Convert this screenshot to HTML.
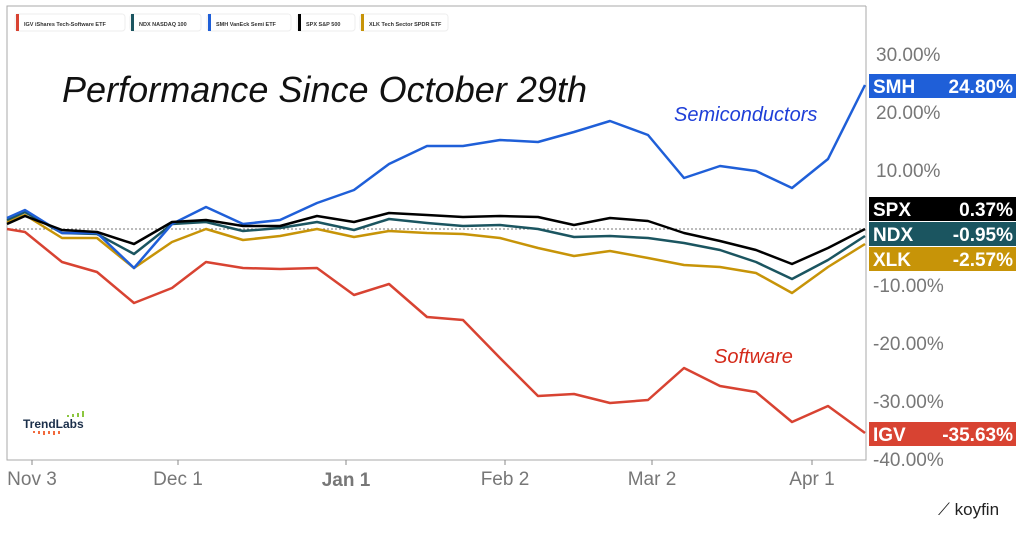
<!DOCTYPE html>
<html><head><meta charset="utf-8"><style>
body{margin:0;background:#fff;width:1024px;height:529px;overflow:hidden;font-family:"Liberation Sans",sans-serif}
</style></head><body>
<svg width="1024" height="529" viewBox="0 0 1024 529" xmlns="http://www.w3.org/2000/svg" font-family="Liberation Sans, sans-serif">
<polyline points="866,6 7,6 7,460 866,460 866,6" fill="none" stroke="#aaa" stroke-width="1"/>
<line x1="7" y1="229" x2="866" y2="229" stroke="#777" stroke-dasharray="2,2"/>
<g font-size="8" fill="#333">
<rect x="15" y="14" width="110" height="17" rx="3" fill="#fff" stroke="#eee"/><rect x="16" y="14" width="3" height="17" fill="#d84332"/><text x="24" y="26" font-size="5.5" font-weight="bold">IGV   iShares Tech-Software ETF</text>
<rect x="130" y="14" width="71" height="17" rx="3" fill="#fff" stroke="#eee"/><rect x="131" y="14" width="3" height="17" fill="#1b5560"/><text x="139" y="26" font-size="5.5" font-weight="bold">NDX   NASDAQ 100</text>
<rect x="207" y="14" width="84" height="17" rx="3" fill="#fff" stroke="#eee"/><rect x="208" y="14" width="3" height="17" fill="#1f5fd8"/><text x="216" y="26" font-size="5.5" font-weight="bold">SMH   VanEck Semi ETF</text>
<rect x="297" y="14" width="58" height="17" rx="3" fill="#fff" stroke="#eee"/><rect x="298" y="14" width="3" height="17" fill="#000"/><text x="306" y="26" font-size="5.5" font-weight="bold">SPX   S&amp;P 500</text>
<rect x="360" y="14" width="88" height="17" rx="3" fill="#fff" stroke="#eee"/><rect x="361" y="14" width="3" height="17" fill="#c79408"/><text x="369" y="26" font-size="5.5" font-weight="bold">XLK   Tech Sector SPDR ETF</text>
</g>
<text x="62" y="102" font-size="36" font-style="italic" fill="#111" textLength="525">Performance Since October 29th</text>
<text x="674" y="121" font-size="20" font-style="italic" fill="#1f3fd8">Semiconductors</text>
<text x="714" y="363" font-size="20" font-style="italic" fill="#d42a1a">Software</text>
<g font-size="19" fill="#777">
<text x="876" y="61">30.00%</text><text x="876" y="119">20.00%</text><text x="876" y="177">10.00%</text>
<text x="873" y="292">-10.00%</text><text x="873" y="350">-20.00%</text><text x="873" y="408">-30.00%</text><text x="873" y="466">-40.00%</text>
</g>
<g font-size="19" fill="#777" text-anchor="middle">
<text x="32" y="485">Nov 3</text><text x="178" y="485">Dec 1</text><text x="346" y="486" font-weight="bold">Jan 1</text>
<text x="505" y="485">Feb 2</text><text x="652" y="485">Mar 2</text><text x="812" y="485">Apr 1</text>
</g>
<g stroke="#888"><line x1="32" y1="460" x2="32" y2="465"/><line x1="178" y1="460" x2="178" y2="465"/><line x1="346" y1="460" x2="346" y2="465"/><line x1="505" y1="460" x2="505" y2="465"/><line x1="652" y1="460" x2="652" y2="465"/><line x1="812" y1="460" x2="812" y2="465"/></g>
<g fill="none" stroke-width="2.5" stroke-linejoin="round">
<polyline stroke="#d84332" points="7,229 25,232 62,262 97,272 134,303 172,288 206,262 243,268 280,269 317,268 354,295 389,284 427,317 463,320 500,358 538,396 574,394 610,403 648,400 684,368 720,386 756,392 792,422 828,406 865,433"/>
<polyline stroke="#c79408" points="7,222 25,215 62,238 97,238 134,268 172,242 206,229 243,240 280,236 317,229 354,237 389,231 427,233 463,234 500,238 538,248 574,256 610,251 648,258 684,265 720,267 756,273 792,293 828,267 865,244"/>
<polyline stroke="#1b5560" points="7,220 25,212 62,233 97,234 134,254 172,224 206,222 243,231 280,228 317,222 354,230 389,219 427,223 463,226 500,225 538,229 574,237 610,236 648,238 684,243 720,250 756,262 792,279 828,260 865,236"/>
<polyline stroke="#1f5fd8" points="7,218 25,210 62,233 97,233 134,268 172,224 206,207 243,224 280,220 317,203 354,190 389,164 427,146 463,146 500,140 538,142 574,132 610,121 648,135 684,178 720,166 756,171 792,188 828,159 865,85"/>
<polyline stroke="#000" points="7,224 25,216 62,230 97,232 134,244 172,222 206,220 243,226 280,226 317,216 354,222 389,213 427,215 463,217 500,216 538,217 574,225 610,218 648,221 684,233 720,241 756,250 792,264 828,248 865,229"/>
</g>
<g font-size="19" font-weight="bold" fill="#fff">
<rect x="869" y="74" width="147" height="24" fill="#1f5fd8"/><text x="873" y="93">SMH</text><text x="1013" y="93" text-anchor="end">24.80%</text>
<rect x="869" y="197" width="147" height="24" fill="#000"/><text x="873" y="216">SPX</text><text x="1013" y="216" text-anchor="end">0.37%</text>
<rect x="869" y="222" width="147" height="24" fill="#1b5560"/><text x="873" y="241">NDX</text><text x="1013" y="241" text-anchor="end">-0.95%</text>
<rect x="869" y="247" width="147" height="24" fill="#c79408"/><text x="873" y="266">XLK</text><text x="1013" y="266" text-anchor="end">-2.57%</text>
<rect x="869" y="422" width="147" height="24" fill="#d84332"/><text x="873" y="441">IGV</text><text x="1013" y="441" text-anchor="end">-35.63%</text>
</g>
<text x="23" y="428" font-size="12" font-weight="bold" fill="#1b2f4a">TrendLabs</text>
<g fill="#8cc63f"><rect x="67" y="415" width="2" height="2"/><rect x="72" y="414" width="2" height="3"/><rect x="77" y="413" width="2" height="4"/><rect x="82" y="411" width="2" height="6"/></g>
<g fill="#f26a3c"><rect x="33" y="431" width="2" height="2"/><rect x="38" y="431" width="2" height="3"/><rect x="43" y="431" width="2" height="4"/><rect x="48" y="431" width="2" height="3"/><rect x="53" y="431" width="2" height="4"/><rect x="58" y="431" width="2" height="3"/></g>
<text x="938" y="515" font-size="17" fill="#222">⟋ koyfin</text>
</svg>
</body></html>
